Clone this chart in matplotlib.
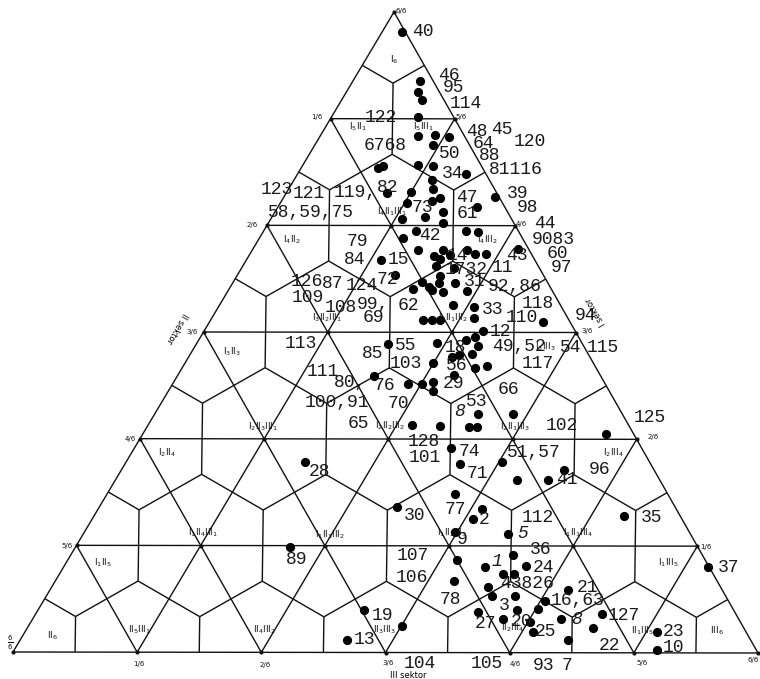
import matplotlib
matplotlib.use("Agg")
import matplotlib.pyplot as plt
from matplotlib.collections import LineCollection
from matplotlib.transforms import Affine2D

# share of sektor I (top) and sektor III (bottom right) for every sample,
# sektor II is the rest (1 - I - III)
sek_I = [0.969, 0.892, 0.875, 0.863, 0.836, 0.806, 0.808, 0.805, 0.792, 0.756,
         0.759, 0.761, 0.759, 0.748, 0.738, 0.723, 0.709, 0.705, 0.719, 0.717,
         0.702, 0.711, 0.695, 0.677, 0.680, 0.688, 0.670, 0.647, 0.658, 0.658,
         0.656, 0.628, 0.619, 0.628, 0.614, 0.603, 0.620, 0.628, 0.623, 0.623,
         0.630, 0.600, 0.588, 0.578, 0.570, 0.566, 0.577, 0.563, 0.567, 0.577,
         0.564, 0.613, 0.589, 0.542, 0.539, 0.523, 0.519, 0.519, 0.519, 0.502,
         0.516, 0.481, 0.483, 0.488, 0.492, 0.478, 0.466, 0.464, 0.461, 0.452,
         0.445, 0.447, 0.433, 0.431, 0.420, 0.420, 0.423, 0.409, 0.372, 0.372,
         0.356, 0.353, 0.353, 0.352, 0.342, 0.320, 0.295, 0.298, 0.270, 0.270,
         0.286, 0.248, 0.227, 0.225, 0.209, 0.213, 0.186, 0.188, 0.152, 0.145,
         0.134, 0.136, 0.123, 0.123, 0.111, 0.102, 0.089, 0.088, 0.081, 0.098,
         0.064, 0.067, 0.069, 0.052, 0.048, 0.053, 0.061, 0.039, 0.033, 0.020,
         0.041, 0.134, 0.033, 0.005, 0.297, 0.164, 0.066, 0.020]
sek_III = [0.027, 0.090, 0.096, 0.108, 0.116, 0.132, 0.153, 0.173, 0.159, 0.103,
           0.108, 0.155, 0.175, 0.225, 0.185, 0.194, 0.210, 0.202, 0.166, 0.135,
           0.170, 0.284, 0.267, 0.176, 0.205, 0.225, 0.234, 0.192, 0.205, 0.271,
           0.289, 0.223, 0.248, 0.256, 0.259, 0.260, 0.270, 0.288, 0.302, 0.316,
           0.355, 0.285, 0.272, 0.254, 0.267, 0.273, 0.277, 0.289, 0.247, 0.298,
           0.321, 0.181, 0.212, 0.314, 0.343, 0.351, 0.285, 0.297, 0.308, 0.374,
           0.447, 0.257, 0.322, 0.359, 0.368, 0.380, 0.378, 0.362, 0.354, 0.333,
           0.392, 0.408, 0.370, 0.264, 0.315, 0.334, 0.348, 0.355, 0.434, 0.481,
           0.354, 0.393, 0.431, 0.443, 0.621, 0.424, 0.449, 0.504, 0.539, 0.580,
           0.594, 0.466, 0.399, 0.514, 0.510, 0.711, 0.569, 0.497, 0.594, 0.522,
           0.565, 0.619, 0.595, 0.609, 0.535, 0.586, 0.598, 0.629, 0.673, 0.695,
           0.591, 0.642, 0.670, 0.631, 0.670, 0.709, 0.760, 0.759, 0.681, 0.735,
           0.501, 0.864, 0.847, 0.862, 0.240, 0.288, 0.437, 0.438]

# sample numbers written next to the points
sample_ids = ["40", "46", "95", "114", "122", "48", "45", "120", "64", "6768",
              "50", "88", "81116", "34", "123", "121", "119,", "82", "47", "39",
              "98", "58,59,75", "73", "61", "44", "9083", "60", "97", "79", "84",
              "42", "15", "14", "43", "1732", "11", "126", "87", "124", "72",
              "31", "92,86", "109", "108", "99,", "62", "118", "69", "33", "110",
              "94", "12", "113", "55", "85", "18", "49,52", "54", "115", "103",
              "56", "117", "111", "80,", "76", "29", "66", "100,91", "70", "53",
              "8", "65", "102", "125", "128", "101", "74", "51,57", "96", "71",
              "41", "28", "30", "77", "2", "112", "35", "5", "9", "107",
              "36", "1", "24", "37", "89", "106", "43826", "21", "16,63", "78",
              "3", "127", "27", "20", "8", "25", "22", "19", "13", "23",
              "10", "104", "105", "93", "7"]
id_pos = [(423, 32), (449, 75), (453, 88), (466, 103), (381, 117), (477, 132),
          (502, 130), (530, 142), (483, 143), (385, 145), (450, 153), (490, 155),
          (516, 170), (453, 173), (277, 190), (309, 193), (355, 193), (388, 187),
          (467, 198), (518, 193), (527, 207), (311, 213), (422, 207), (467, 213),
          (545, 224), (553, 239), (557, 253), (561, 267), (357, 242), (355, 259),
          (430, 235), (398, 260), (457, 255), (517, 255), (466, 270), (502, 268),
          (307, 282), (333, 283), (362, 286), (387, 280), (475, 282), (515, 287),
          (308, 297), (341, 308), (373, 305), (408, 305), (538, 303), (373, 318),
          (493, 310), (522, 318), (585, 316), (500, 332), (301, 343), (406, 345),
          (373, 353), (455, 348), (519, 347), (571, 347), (603, 347), (406, 363),
          (457, 365), (538, 363), (323, 372), (350, 383), (384, 385), (453, 383),
          (508, 390), (337, 403), (398, 403), (477, 402), (460, 412), (358, 423),
          (562, 425), (650, 418), (424, 441), (425, 458), (469, 451), (534, 453),
          (599, 470), (477, 473), (567, 480), (319, 472), (415, 515), (455, 509),
          (484, 520), (538, 517), (652, 518), (523, 534), (462, 540), (413, 555),
          (541, 550), (497, 562), (543, 567), (729, 568), (297, 560), (412, 578),
          (527, 583), (587, 587), (578, 600), (450, 600), (504, 605), (624, 616),
          (485, 624), (521, 621), (577, 620), (545, 632), (609, 645), (382, 615),
          (364, 640), (674, 631), (673, 648), (420, 664), (487, 663), (544, 666),
          (567, 666)]
italic_ids = {70, 87, 91, 104}

# cell names (I, II, III in sixths) and where the name sits
cell_pos = {(6, 0, 0): (394, 60), (5, 1, 0): (358, 127), (5, 0, 1): (423, 127),
            (4, 2, 0): (292, 240), (4, 1, 1): (392, 212), (4, 0, 2): (487, 240),
            (3, 3, 0): (232, 352), (3, 2, 1): (327, 318), (3, 1, 2): (453, 318),
            (3, 0, 3): (545, 347), (2, 4, 0): (167, 453), (2, 3, 1): (263, 427),
            (2, 2, 2): (390, 426), (2, 1, 3): (515, 427), (2, 0, 4): (613, 453),
            (1, 5, 0): (103, 563), (1, 4, 1): (203, 533), (1, 3, 2): (330, 535),
            (1, 2, 3): (452, 533), (1, 1, 4): (578, 533), (1, 0, 5): (668, 563),
            (0, 6, 0): (53, 636), (0, 5, 1): (140, 630), (0, 4, 2): (265, 630),
            (0, 3, 3): (385, 630), (0, 2, 4): (513, 628), (0, 1, 5): (643, 631),
            (0, 0, 6): (717, 631)}

# scale tick labels along the three sides
ticks = [("6/6", 401, 11), ("1/6", 317, 117), ("2/6", 252, 225), ("3/6", 192, 332),
         ("4/6", 130, 439), ("5/6", 67, 546), ("5/6", 461, 117), ("4/6", 521, 224),
         ("3/6", 587, 331), ("2/6", 653, 437), ("1/6", 706, 547), ("6/6", 753, 660),
         ("1/6", 139, 664), ("2/6", 265, 665), ("3/6", 388, 663), ("4/6", 515, 664),
         ("5/6", 642, 663)]

fig = plt.figure(figsize=(7.6, 6.79), dpi=100)
ax = fig.add_axes([0, 0, 1, 1])
ax.set_xlim(0, 760)
ax.set_ylim(679, 0)
ax.axis("off")

# ternary (III, I) -> scanned triangle (slightly skewed)
tern = Affine2D.from_values(745, 1, 381, -640, 13, 652) + ax.transData

n = 6
segs = [[(0, 1), (0, 0), (1, 0), (0, 1)]]
for k in range(1, n):
    t = k / n
    segs.append([(0, t), (1 - t, t)])
    segs.append([(0, 1 - t), (1 - t, 0)])
    segs.append([(t, 1 - t), (t, 0)])

# cell borders: centroid of every small triangle to the middle of its sides
def p(i, k):
    return (k / n, i / n)

for i in range(n):
    for k in range(n - i):
        c = p(i + 1 / 3, k + 1 / 3)
        for m in [(i + .5, k), (i + .5, k + .5), (i, k + .5)]:
            segs.append([c, p(*m)])
for i in range(n - 1):
    for k in range(n - 1 - i):
        c = p(i + 2 / 3, k + 2 / 3)
        for m in [(i + 1, k + .5), (i + .5, k + .5), (i + .5, k + 1)]:
            segs.append([c, p(*m)])

ax.add_collection(LineCollection(segs, colors="#111111", linewidths=1.0,
                                 transform=tern))

lat = [p(i, k) for i in range(n + 1) for k in range(n + 1 - i)]
ax.plot([q[0] for q in lat], [q[1] for q in lat], "o", color="#111111",
        ms=2, transform=tern)

ax.plot(sek_III, sek_I, "o", color="black", ms=5.6, transform=tern)

for idx, (s, (x, y)) in enumerate(zip(sample_ids, id_pos)):
    ax.text(x, y, s, ha="center", va="center", fontsize=13,
            family="Liberation Mono", color="#1a1a1a",
            style="italic" if idx in italic_ids else "normal")

def cell_name(c):
    parts = []
    for name, v in zip(["I", "II", "III"], c):
        if v:
            parts.append(r"%s_{%d}" % (name, v))
    return r"$\mathrm{" + "".join(parts) + "}$"

for c, (x, y) in cell_pos.items():
    ax.text(x, y, cell_name(c), ha="center", va="center", fontsize=6.5,
            color="#111111")

for s, x, y in ticks:
    ax.text(x, y, s, ha="center", va="center", fontsize=5, color="#111111")
ax.text(10, 643, r"$\frac{6}{6}$", ha="center", va="center", fontsize=7)

ax.text(408, 675, "III sektor", ha="center", va="center", fontsize=6)
ax.text(177, 328, "II sektor", ha="center", va="center", fontsize=6,
        rotation=240, rotation_mode="anchor")
ax.text(596, 312, "I sektor", ha="center", va="center", fontsize=6,
        rotation=120, rotation_mode="anchor")

fig.savefig("out.png", dpi=100)
